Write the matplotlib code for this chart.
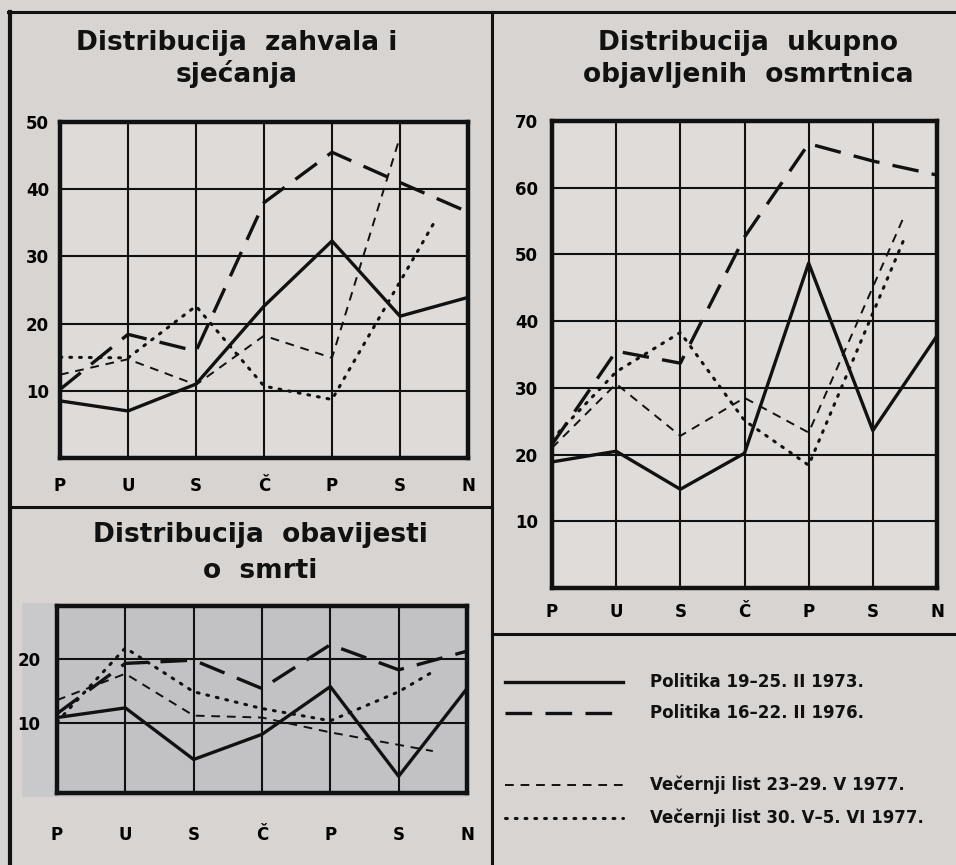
import matplotlib
matplotlib.use('Agg')
import matplotlib.pyplot as plt
import numpy as np
from matplotlib.patches import Rectangle
from matplotlib.lines import Line2D

W, H = 956, 865

DAYS = ['P', 'U', 'S', 'Č', 'P', 'S', 'N']
LEGEND_LABELS = ['Politika 19–25. II 1973.', 'Politika 16–22. II 1976.',
                 'Večernji list 23–29. V 1977.', 'Večernji list 30. V–5. VI 1977.']

# zahvale i sjecanja
zahvala_x_full = [0, 1, 2, 3, 4, 5, 6]
zahvala_politika_1973 = [8.5, 7, 11, 22.6, 32.3, 21.1, 23.9]
zahvala_politika_1976 = [10.2, 18.4, 15.9, 38, 45.5, 41, 36.6]
zahvala_vecernji_v_x = [0, 1, 2, 3, 4, 5]
zahvala_vecernji_v = [12.4, 14.7, 10.9, 18.2, 14.9, 47.8]
zahvala_vecernji_vi_x = [0, 1, 2, 3, 4, 5.5]
zahvala_vecernji_vi = [15, 14.9, 22.6, 10.7, 8.7, 35]

# ukupno objavljene osmrtnice
ukupno_x_full = [0, 1, 2, 3, 4, 5, 6]
ukupno_politika_1973 = [18.9, 20.5, 14.8, 20.2, 48.7, 23.6, 37.8]
ukupno_politika_1976 = [21.5, 35.5, 33.7, 52.6, 66.6, 64, 61.9]
ukupno_vecernji_v_x = [0, 1, 2, 3, 4, 5.5]
ukupno_vecernji_v = [21, 30.6, 22.8, 28.5, 23.3, 56]
ukupno_vecernji_vi_x = [0, 1, 2, 3, 4, 5.5]
ukupno_vecernji_vi = [22.3, 32.4, 38.3, 25.1, 18.4, 52.6]

# obavijesti o smrti
obavijesti_x_full = [0, 1, 2, 3, 4, 5, 6]
obavijesti_politika_1973 = [10.9, 12.4, 4.4, 8.3, 15.7, 1.8, 15.4]
obavijesti_politika_1976 = [11.5, 19.3, 19.8, 15.4, 22.2, 18.3, 21.2]
obavijesti_vecernji_v_x = [0, 1, 2, 3, 4, 5.5]
obavijesti_vecernji_v = [13.6, 17.7, 11.2, 10.9, 8.6, 5.7]
obavijesti_vecernji_vi_x = [0, 1, 2, 3, 4, 5, 5.5]
obavijesti_vecernji_vi = [10.2, 21.7, 14.9, 12.3, 10.4, 14.9, 18]

PAPER = '#d8d4d1'
INK = '#111111'
FONT = ['DejaVu Sans']

STYLES = [
    dict(color=INK, lw=2.4, linestyle='-'),
    dict(color=INK, lw=2.4, linestyle=(0, (8, 4))),
    dict(color=INK, lw=1.4, linestyle=(0, (4.5, 3.5))),
    dict(color=INK, lw=2.2, linestyle=(0, (0.6, 2.6)), dash_capstyle='round'),
]


def box(x0, y0, x1, y1):
    # pixel box (top-left origin) -> figure fraction rect
    return [x0 / W, 1 - y1 / H, (x1 - x0) / W, (y1 - y0) / H]


def fx(x):
    return x / W


def fy(y):
    return 1 - y / H


def make_chart(fig, rect, ylim, yticks, series, label_pad, ypad, face):
    ax = fig.add_axes(rect)
    ax.set_facecolor(face)
    ax.set_xlim(0, 6)
    ax.set_ylim(*ylim)
    ax.set_xticks(range(7))
    ax.set_xticklabels(DAYS, fontsize=12, fontweight='bold', family=FONT)
    ax.set_yticks(yticks)
    ax.set_yticklabels([str(t) for t in yticks], fontsize=12, fontweight='bold', family=FONT)
    ax.tick_params(length=0, pad=label_pad, axis='x')
    ax.tick_params(length=0, pad=ypad, axis='y')
    ax.grid(True, color=INK, lw=1.5)
    ax.set_axisbelow(True)
    for s in ax.spines.values():
        s.set_linewidth(3.2)
        s.set_color(INK)
    for (xs, ys), st in zip(series, STYLES):
        ax.plot(xs, ys, solid_capstyle='butt', clip_on=False, zorder=3, **st)
    return ax


def title(fig, x, baselines, lines):
    for yy, txt in zip(baselines, lines):
        fig.text(fx(x), fy(yy), txt, fontsize=19, fontweight='bold', family=FONT,
                 ha='center', va='baseline', color=INK)


def main() -> None:
    fig = plt.figure(figsize=(W / 100, H / 100), dpi=100, facecolor=PAPER)

    # panel borders
    border = dict(color=INK, lw=2.2, transform=fig.transFigure)
    fig.add_artist(Line2D([fx(8), fx(956)], [fy(12), fy(12)], **border))
    fig.add_artist(Line2D([fx(10), fx(10)], [fy(12), fy(865)], lw=3, color=INK, transform=fig.transFigure))
    fig.add_artist(Line2D([fx(492), fx(492)], [fy(12), fy(865)], **border))
    fig.add_artist(Line2D([fx(10), fx(492)], [fy(507), fy(507)], **border))
    fig.add_artist(Line2D([fx(492), fx(956)], [fy(634), fy(634)], **border))

    title(fig, 237, [50, 82], ['Distribucija  zahvala i', 'sjećanja'])
    title(fig, 748, [50, 82], ['Distribucija  ukupno', 'objavljenih  osmrtnica'])
    title(fig, 260, [542, 578], ['Distribucija  obavijesti', 'o  smrti'])

    make_chart(fig, box(60, 122, 468, 458), (0, 50), [10, 20, 30, 40, 50], [
        (zahvala_x_full, zahvala_politika_1973),
        (zahvala_x_full, zahvala_politika_1976),
        (zahvala_vecernji_v_x, zahvala_vecernji_v),
        (zahvala_vecernji_vi_x, zahvala_vecernji_vi),
    ], 14, 8, '#dedbd9')

    make_chart(fig, box(552, 121, 937, 588), (0, 70), [10, 20, 30, 40, 50, 60, 70], [
        (ukupno_x_full, ukupno_politika_1973),
        (ukupno_x_full, ukupno_politika_1976),
        (ukupno_vecernji_v_x, ukupno_vecernji_v),
        (ukupno_vecernji_vi_x, ukupno_vecernji_vi),
    ], 11, 10, '#dfdcda')

    fig.add_artist(Rectangle((fx(22), fy(797)), fx(468) - fx(22), fy(603) - fy(797),
                             transform=fig.transFigure, facecolor='#c9c9cb', edgecolor='none', zorder=0))
    make_chart(fig, box(57, 606, 467, 793), (-0.8, 28.2), [10, 20], [
        (obavijesti_x_full, obavijesti_politika_1973),
        (obavijesti_x_full, obavijesti_politika_1976),
        (obavijesti_vecernji_v_x, obavijesti_vecernji_v),
        (obavijesti_vecernji_vi_x, obavijesti_vecernji_vi),
    ], 24, 12, '#c2c2c4')

    # legend
    legend_y = [682, 713, 785, 818]
    for yy, label, st in zip(legend_y, LEGEND_LABELS, STYLES):
        fig.add_artist(Line2D([fx(505), fx(623)], [fy(yy), fy(yy)], transform=fig.transFigure, **st))
        fig.text(fx(650), fy(yy), label, fontsize=13.3, fontweight='bold', family=FONT,
                 fontstretch='condensed', ha='left', va='center', color=INK)

    fig.savefig('out.png', dpi=100, facecolor=PAPER)


if __name__ == '__main__':
    main()
